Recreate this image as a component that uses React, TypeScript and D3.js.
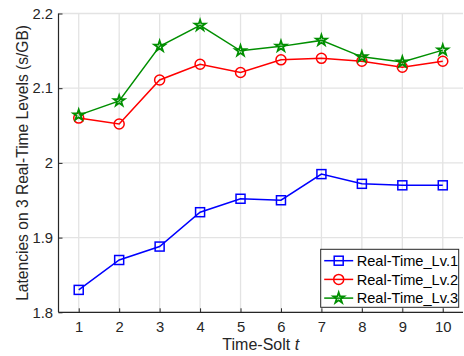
import React, { useEffect, useRef } from 'react';
import * as d3 from 'd3';

const slots = [1, 2, 3, 4, 5, 6, 7, 8, 9, 10];
const lv1 = [1.830, 1.870, 1.888, 1.934, 1.952, 1.950, 1.985, 1.972, 1.970, 1.970];
const lv2 = [2.060, 2.052, 2.111, 2.132, 2.121, 2.138, 2.140, 2.136, 2.128, 2.136];
const lv3 = [2.064, 2.083, 2.156, 2.184, 2.150, 2.156, 2.164, 2.142, 2.135, 2.151];
const yTicks = [1.8, 1.9, 2, 2.1, 2.2];
const seriesNames = ['Real-Time_Lv.1', 'Real-Time_Lv.2', 'Real-Time_Lv.3'];

const App = () => {
  const ref = useRef<SVGSVGElement>(null);

  useEffect(() => {
    const width = 464, height = 356;
    const margin = { top: 13.5, right: 1, bottom: 43.7, left: 58.5 };
    const iw = width - margin.left - margin.right;
    const ih = height - margin.top - margin.bottom;
    const font = 'Liberation Sans, Arial, Helvetica, sans-serif';

    const svg = d3.select(ref.current);
    svg.selectAll('*').remove();
    svg.attr('width', width).attr('height', height).style('font-family', font);

    const x = d3.scaleLinear().domain([0.5, 10.5]).range([0, iw]);
    const y = d3.scaleLinear().domain([1.8, 2.2]).range([ih, 0]);

    const g = svg.append('g').attr('transform', `translate(${margin.left},${margin.top})`);

    // grid
    g.append('g').selectAll('line').data(slots).enter().append('line')
      .attr('x1', d => x(d)).attr('x2', d => x(d)).attr('y1', 0).attr('y2', ih)
      .attr('stroke', '#e3e3e3').attr('stroke-width', 1.3);
    g.append('g').selectAll('line').data(yTicks).enter().append('line')
      .attr('x1', 0).attr('x2', iw).attr('y1', d => y(d)).attr('y2', d => y(d))
      .attr('stroke', '#e3e3e3').attr('stroke-width', 1.3);

    // axes
    const xAxis = g.append('g').attr('transform', `translate(0,${ih})`)
      .call(d3.axisBottom(x).tickValues(slots).tickSize(-4).tickPadding(9).tickFormat(d3.format('d')));
    const yAxis = g.append('g')
      .call(d3.axisLeft(y).tickValues(yTicks).tickSize(-4).tickPadding(5.5).tickFormat(d => String(d)));
    [xAxis, yAxis].forEach(a => {
      a.select('.domain').attr('stroke', '#262626').attr('stroke-width', 1.2);
      a.selectAll('.tick line').attr('stroke', '#262626');
      a.selectAll('.tick text').attr('fill', '#262626').style('font-size', '14.8px').style('font-family', font);
    });
    xAxis.select('.domain').attr('d', `M0,0H${iw}`);
    yAxis.select('.domain').attr('d', `M0,${ih}V0`);

    const line = d3.line<number>().x((_, i) => x(slots[i])).y(d => y(d));
    const colors = ['#0000ff', '#ff0000', '#008f00'];
    const datasets = [lv1, lv2, lv3];
    const star = d3.symbol().type(d3.symbolStar).size(36);

    const drawMarker = (sel: any, k: number, cx: number, cy: number) => {
      if (k === 0) {
        sel.append('rect').attr('x', cx - 4.5).attr('y', cy - 4.5).attr('width', 9).attr('height', 9)
          .attr('fill', 'none').attr('stroke', colors[k]).attr('stroke-width', 1.5);
      } else if (k === 1) {
        sel.append('circle').attr('cx', cx).attr('cy', cy).attr('r', 5)
          .attr('fill', 'none').attr('stroke', colors[k]).attr('stroke-width', 1.5);
      } else {
        sel.append('path').attr('d', star()).attr('transform', `translate(${cx},${cy})`)
          .attr('fill', 'none').attr('stroke', colors[k]).attr('stroke-width', 1.8);
      }
    };

    datasets.forEach((data, k) => {
      g.append('path').datum(data).attr('d', line).attr('fill', 'none')
        .attr('stroke', colors[k]).attr('stroke-width', 1.5);
      const mg = g.append('g');
      data.forEach((v, i) => drawMarker(mg, k, x(slots[i]), y(v)));
    });

    // legend
    const lx = 320.7, ly = 249.3, lw = 138, lh = 58;
    const leg = svg.append('g');
    leg.append('rect').attr('x', lx).attr('y', ly).attr('width', lw).attr('height', lh)
      .attr('fill', '#fff').attr('stroke', '#262626').attr('stroke-width', 1);
    seriesNames.forEach((name, k) => {
      const yy = ly + 11.4 + k * 18.7;
      leg.append('line').attr('x1', lx + 3.5).attr('x2', lx + 32.5).attr('y1', yy).attr('y2', yy)
        .attr('stroke', colors[k]).attr('stroke-width', 1.5);
      drawMarker(leg, k, lx + 18, yy);
      leg.append('text').attr('x', lx + 36).attr('y', yy).attr('dy', '0.36em')
        .style('font-size', '14.6px').attr('fill', '#000').text(name);
    });

    // labels
    const xl = svg.append('text').attr('x', margin.left + iw / 2).attr('y', 349.5)
      .attr('text-anchor', 'middle').style('font-size', '16px').attr('fill', '#262626');
    xl.append('tspan').text('Time-Solt ');
    xl.append('tspan').style('font-style', 'italic').text('t');

    svg.append('text')
      .attr('transform', `translate(27.5, ${margin.top + ih / 2}) rotate(-90)`)
      .attr('text-anchor', 'middle').style('font-size', '15.6px').attr('fill', '#262626')
      .text('Latencies on 3 Real-Time Levels (s/GB)');
  }, []);

  return (
    <div style={{ position: 'absolute', left: 0, top: 0 }}>
      <svg ref={ref}></svg>
    </div>
  );
};

export default App;
